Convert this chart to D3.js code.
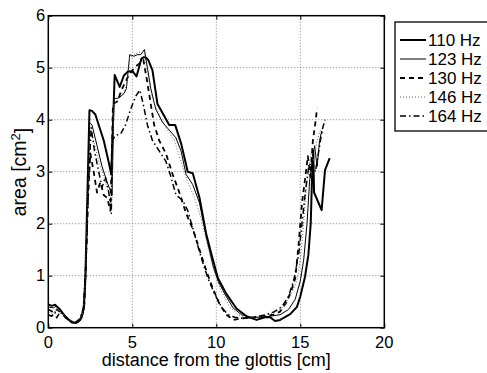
<!DOCTYPE html>
<html>
<head>
<meta charset="utf-8">
<script src="https://cdn.jsdelivr.net/npm/d3@7"></script>
<style>
  body { margin: 0; background: #fff; overflow: hidden; }
  svg { display: block; font-family: "Liberation Sans", Arial, Helvetica, sans-serif; }
  .grid line { stroke: #808080; stroke-width: 1; stroke-dasharray: 1,2; }
  .tick-label { font-size: 16.5px; fill: #000; }
  .axis-label { font-size: 18px; fill: #000; }
  .legend-text { font-size: 17px; fill: #000; }
  .curve { fill: none; stroke-linejoin: round; }
</style>
</head>
<body>
<script>
// tick labels
var xTicks = [0, 5, 10, 15, 20];
var yTicks = [0, 1, 2, 3, 4, 5, 6];

// series names
var seriesNames = ["110 Hz", "123 Hz", "130 Hz", "146 Hz", "164 Hz"];

// area function per frequency, [distance cm, area cm^2]
var s110 = [[0,0.45],[0.2,0.42],[0.4,0.44],[0.7,0.35],[1.0,0.22],[1.3,0.13],[1.6,0.09],[1.9,0.15],[2.1,0.35],[2.2,0.9],[2.3,2.2],[2.45,4.18],[2.6,4.17],[2.8,4.1],[3.05,3.85],[3.3,3.6],[3.55,3.25],[3.75,2.95],[3.95,4.86],[4.25,4.63],[4.5,4.85],[4.75,4.93],[5.05,4.92],[5.25,4.83],[5.55,5.18],[5.75,5.21],[5.95,5.15],[6.2,4.95],[6.5,4.3],[6.85,4.1],[7.2,3.9],[7.55,3.9],[7.9,3.55],[8.3,3.0],[8.6,2.97],[9.0,2.5],[9.4,1.8],[9.8,1.3],[10.1,0.95],[10.6,0.65],[11.2,0.37],[11.8,0.22],[12.4,0.15],[12.9,0.2],[13.2,0.2],[13.5,0.13],[13.8,0.15],[14.4,0.26],[14.8,0.4],[15.0,0.6],[15.28,0.98],[15.48,1.4],[15.62,2.0],[15.7,2.9],[15.77,3.4],[15.82,2.6],[16.27,2.26],[16.47,3.03],[16.75,3.26]];
var s123 = [[0,0.4],[0.3,0.38],[0.5,0.42],[0.8,0.3],[1.1,0.2],[1.4,0.12],[1.7,0.08],[2.0,0.18],[2.15,0.4],[2.25,1.2],[2.35,2.5],[2.45,3.95],[2.6,3.9],[2.9,3.5],[3.2,3.1],[3.5,2.8],[3.8,2.55],[3.9,4.4],[4.2,4.42],[4.5,4.5],[4.65,4.6],[4.85,5.25],[5.1,5.22],[5.3,5.25],[5.5,5.25],[5.72,5.35],[5.9,5.0],[6.1,4.6],[6.4,4.2],[6.8,3.95],[7.2,3.8],[7.6,3.65],[7.9,3.4],[8.2,2.95],[8.6,2.75],[9.0,2.4],[9.4,1.75],[9.8,1.2],[10.1,0.9],[10.5,0.65],[11.0,0.38],[11.5,0.25],[12.0,0.2],[12.6,0.2],[13.2,0.22],[13.8,0.25],[14.3,0.35],[14.7,0.55],[15.0,0.9],[15.2,1.3],[15.4,2.0],[15.55,2.8],[15.7,3.2],[15.85,3.5],[16.0,3.1],[16.15,3.6],[16.27,3.78],[16.35,3.75]];
var s130 = [[0,0.35],[0.3,0.3],[0.5,0.35],[0.8,0.28],[1.1,0.18],[1.4,0.1],[1.7,0.08],[2.0,0.2],[2.15,0.45],[2.25,1.3],[2.35,2.4],[2.5,3.35],[2.7,3.0],[2.9,2.6],[3.1,2.8],[3.3,2.55],[3.5,2.5],[3.7,2.25],[3.85,4.3],[4.1,4.35],[4.4,4.6],[4.7,4.8],[5.0,4.95],[5.3,5.05],[5.5,5.1],[5.66,5.15],[5.85,4.8],[6.05,4.4],[6.3,3.9],[6.6,3.6],[7.0,3.35],[7.4,2.95],[7.8,2.6],[8.2,2.2],[8.6,1.9],[9.0,1.5],[9.4,1.1],[9.8,0.75],[10.2,0.45],[10.6,0.25],[11.0,0.15],[11.5,0.18],[12.2,0.2],[12.8,0.22],[13.4,0.25],[13.8,0.31],[14.2,0.5],[14.5,0.75],[14.7,0.95],[14.9,1.6],[15.1,2.4],[15.3,2.9],[15.45,3.3],[15.6,2.9],[15.75,3.6],[15.9,3.95],[16.0,4.22]];
var s146 = [[0,0.3],[0.3,0.28],[0.5,0.35],[0.8,0.28],[1.1,0.2],[1.4,0.12],[1.7,0.1],[2.0,0.2],[2.15,0.5],[2.25,1.5],[2.4,3.0],[2.5,3.8],[2.7,3.6],[3.0,3.2],[3.3,2.9],[3.6,2.6],[3.8,2.5],[3.9,4.3],[4.2,4.4],[4.5,4.55],[4.7,4.7],[4.85,5.2],[5.1,5.25],[5.4,5.3],[5.7,5.3],[5.9,4.9],[6.2,4.4],[6.6,4.1],[7.0,3.85],[7.5,3.6],[7.9,3.2],[8.3,2.8],[8.7,2.5],[9.1,2.1],[9.5,1.55],[9.9,1.05],[10.3,0.7],[10.8,0.4],[11.3,0.25],[12.0,0.18],[12.8,0.22],[13.5,0.3],[14.0,0.4],[14.4,0.6],[14.8,0.9],[15.0,1.3],[15.2,2.0],[15.35,2.7],[15.5,3.0],[15.65,3.4],[15.8,3.2],[16.0,3.6],[16.2,3.8]];
var s164 = [[0,0.25],[0.2,0.22],[0.4,0.3],[0.5,0.19],[0.7,0.3],[1.0,0.2],[1.3,0.12],[1.6,0.1],[1.9,0.18],[2.1,0.4],[2.25,1.3],[2.4,2.8],[2.55,3.85],[2.75,3.4],[3.0,3.0],[3.2,2.7],[3.4,2.9],[3.6,2.6],[3.75,2.2],[3.8,3.6],[4.0,3.7],[4.3,3.72],[4.6,3.9],[4.9,4.2],[5.2,4.45],[5.45,4.57],[5.65,4.3],[5.9,3.9],[6.2,3.6],[6.6,3.4],[7.0,3.2],[7.3,2.9],[7.6,2.55],[8.0,2.45],[8.3,2.25],[8.7,1.8],[9.1,1.35],[9.5,0.95],[9.9,0.65],[10.3,0.4],[10.7,0.25],[11.1,0.2],[11.6,0.18],[12.2,0.2],[12.8,0.24],[13.4,0.3],[13.9,0.4],[14.3,0.6],[14.6,0.9],[14.9,1.4],[15.1,2.0],[15.3,2.6],[15.5,3.1],[15.7,3.2],[15.9,3.0],[16.1,3.4],[16.3,3.8],[16.47,4.0]];

var allSeries = [s110, s123, s130, s146, s164];

// line styles, same order as the series
var styles = [
  {width: 2, dash: null, color: "#000"},
  {width: 1, dash: null, color: "#000"},
  {width: 1.8, dash: "5,4", color: "#000"},
  {width: 1, dash: "1,2", color: "#666"},
  {width: 1.5, dash: "6,3,1.5,3", color: "#000"}
];

var W = 487, H = 373;
var margin = {top: 15.7, right: 102.7, bottom: 45.3, left: 48.3};
var width = W - margin.left - margin.right;
var height = H - margin.top - margin.bottom;

var svg = d3.select("body").append("svg")
  .attr("width", W)
  .attr("height", H);

var g = svg.append("g")
  .attr("transform", "translate(" + margin.left + "," + margin.top + ")");

var x = d3.scaleLinear().domain([0, 20]).range([0, width]);
var y = d3.scaleLinear().domain([0, 6]).range([height, 0]);

// dotted grid
g.append("g").attr("class", "grid")
  .selectAll("line").data(xTicks.slice(1, -1)).enter().append("line")
  .attr("x1", function(d) { return x(d); })
  .attr("x2", function(d) { return x(d); })
  .attr("y1", 0).attr("y2", height);

g.append("g").attr("class", "grid")
  .selectAll("line").data(yTicks.slice(1, -1)).enter().append("line")
  .attr("y1", function(d) { return y(d); })
  .attr("y2", function(d) { return y(d); })
  .attr("x1", 0).attr("x2", width);

g.append("clipPath").attr("id", "clip")
  .append("rect").attr("width", width).attr("height", height);

var line = d3.line()
  .x(function(d) { return x(d[0]); })
  .y(function(d) { return y(d[1]); });

g.append("g").attr("clip-path", "url(#clip)")
  .selectAll("path").data(allSeries).enter().append("path")
  .attr("class", "curve")
  .attr("d", line)
  .attr("stroke", function(d, i) { return styles[i].color; })
  .attr("stroke-width", function(d, i) { return styles[i].width; })
  .attr("stroke-dasharray", function(d, i) { return styles[i].dash; });

// axes with inward ticks on all four sides, labels drawn separately
var tick = 4;
g.append("g").attr("transform", "translate(0," + height + ")")
  .call(d3.axisBottom(x).tickValues(xTicks).tickSize(-tick).tickFormat(""));
g.append("g")
  .call(d3.axisTop(x).tickValues(xTicks).tickSize(-tick).tickFormat(""));
g.append("g")
  .call(d3.axisLeft(y).tickValues(yTicks).tickSize(-tick).tickFormat(""));
g.append("g").attr("transform", "translate(" + width + ",0)")
  .call(d3.axisRight(y).tickValues(yTicks).tickSize(-tick).tickFormat(""));
g.selectAll(".domain").remove();
g.selectAll(".tick line").attr("stroke", "#000");

g.append("rect")
  .attr("width", width).attr("height", height)
  .attr("fill", "none").attr("stroke", "#000").attr("stroke-width", 1.5);

g.selectAll(".xl").data(xTicks).enter().append("text")
  .attr("class", "tick-label")
  .attr("x", function(d) { return x(d); })
  .attr("y", height + 20)
  .attr("text-anchor", "middle")
  .text(function(d) { return d; });

g.selectAll(".yl").data(yTicks).enter().append("text")
  .attr("class", "tick-label")
  .attr("x", -3)
  .attr("y", function(d) { return y(d); })
  .attr("dy", "0.35em")
  .attr("text-anchor", "end")
  .text(function(d) { return d; });

g.append("text").attr("class", "axis-label")
  .attr("x", width / 2)
  .attr("y", height + 38)
  .attr("text-anchor", "middle")
  .text("distance from the glottis [cm]");

var yl = svg.append("text").attr("class", "axis-label")
  .style("font-size", "19.5px")
  .attr("transform", "translate(26," + 172 + ") rotate(-90)")
  .attr("text-anchor", "middle");
yl.append("tspan").text("area [cm");
yl.append("tspan").attr("dy", "-0.45em").style("font-size", "13px").text("2");
yl.append("tspan").attr("dy", "0.45em").text("]");

// legend
var leg = svg.append("g").attr("transform", "translate(395,22)");
leg.append("rect")
  .attr("width", 110).attr("height", 109)
  .attr("fill", "#fff").attr("stroke", "#000").attr("stroke-width", 1.3);

var rows = leg.selectAll(".row").data(seriesNames).enter().append("g")
  .attr("transform", function(d, i) { return "translate(0," + (18 + i * 19) + ")"; });
rows.append("line")
  .attr("x1", 5).attr("x2", 31)
  .attr("stroke", function(d, i) { return styles[i].color; })
  .attr("stroke-width", function(d, i) { return styles[i].width; })
  .attr("stroke-dasharray", function(d, i) { return styles[i].dash; });
rows.append("text")
  .attr("class", "legend-text")
  .attr("x", 33).attr("dy", "0.35em")
  .text(function(d) { return d; });
</script>
</body>
</html>
